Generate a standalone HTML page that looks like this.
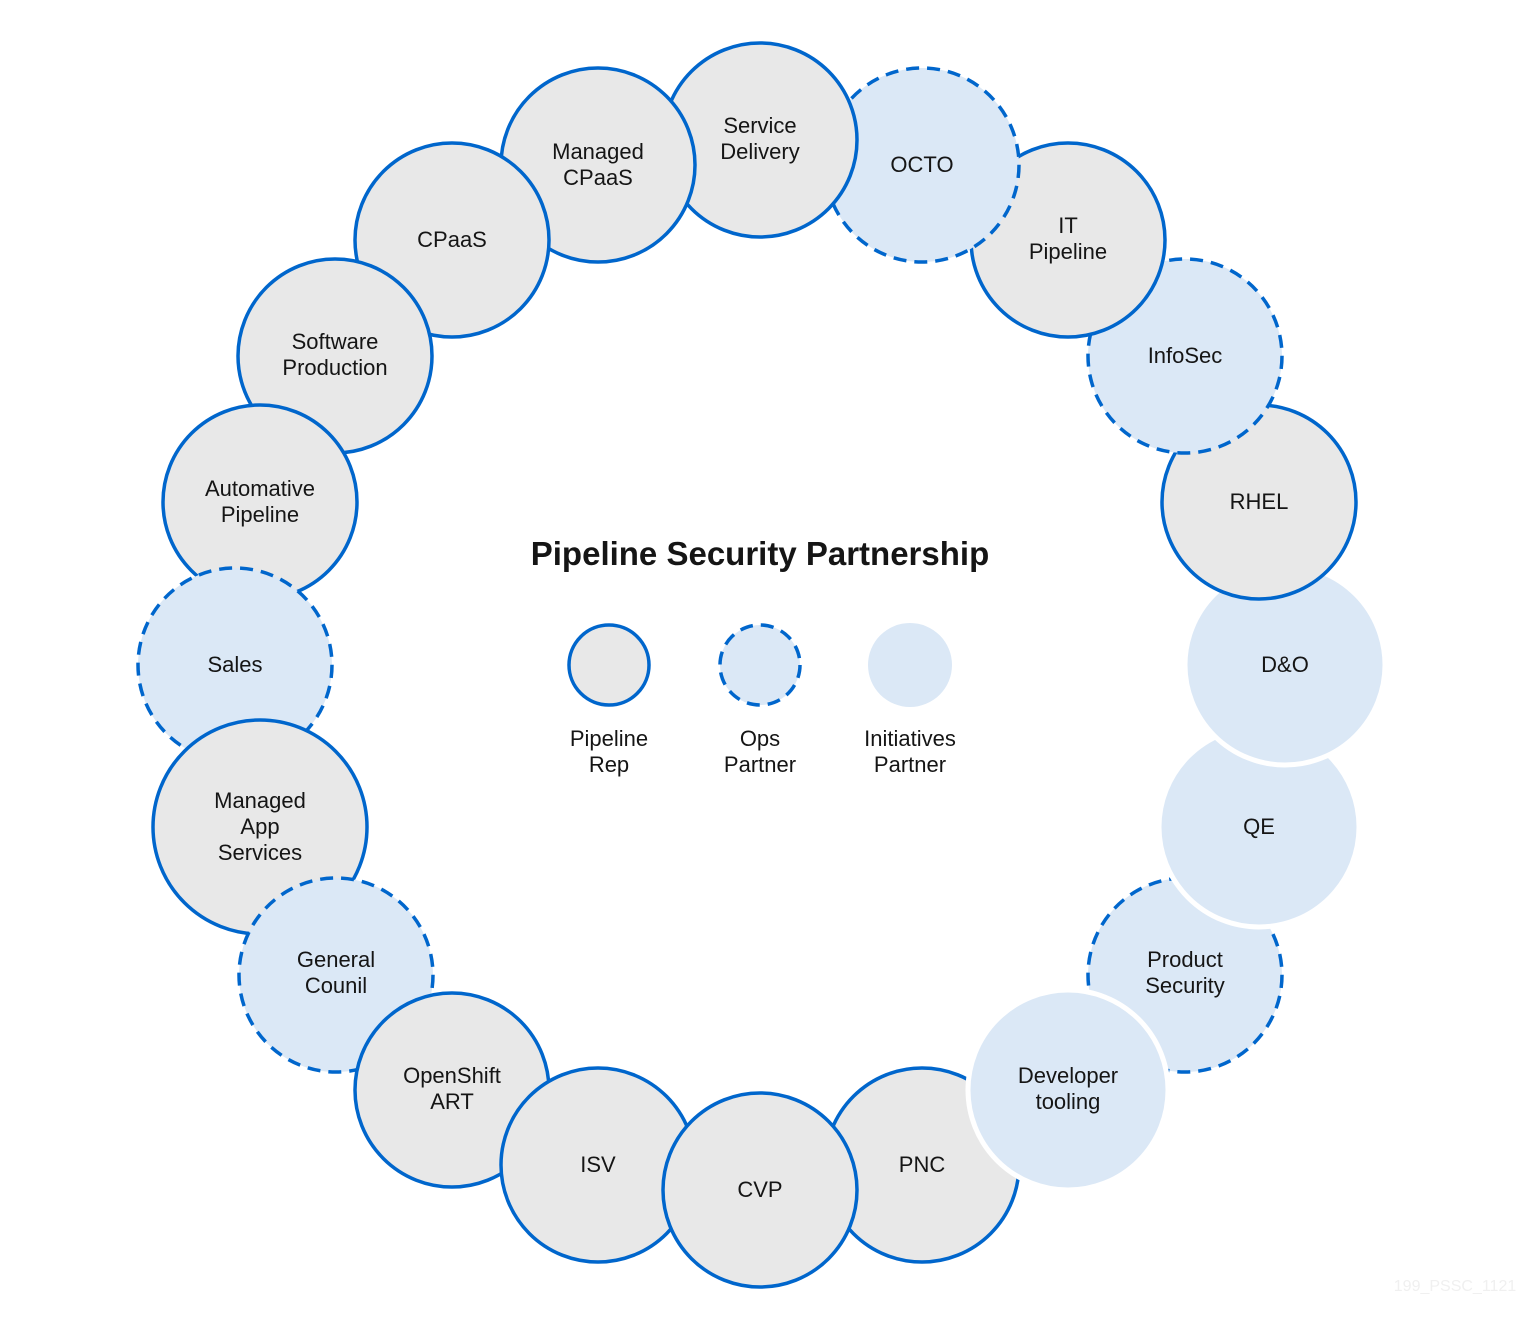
<!DOCTYPE html>
<html><head><meta charset="utf-8"><style>
html,body{margin:0;padding:0;background:#fff;}
svg{display:block;}
text{font-family:"Liberation Sans",sans-serif;font-size:22px;fill:#151515;text-anchor:middle;}
</style></head><body>
<svg width="1520" height="1325" viewBox="0 0 1520 1325">
<defs>
<style>
.s{fill:#e8e8e8;stroke:#0066cc;stroke-width:3.5;}
.d{fill:#dbe8f6;stroke:#0066cc;stroke-width:3.5;stroke-dasharray:13 8;}
.i{fill:#dbe8f6;stroke:#fff;stroke-width:5;}
</style>
</defs>
<circle class="d" cx="1185" cy="975" r="97"/>
<circle class="i" cx="1259" cy="827" r="100"/>
<circle class="i" cx="1285" cy="665" r="100"/>
<circle class="s" cx="1259" cy="502" r="97"/>
<circle class="d" cx="1185" cy="356" r="97"/>
<circle class="s" cx="1068" cy="240" r="97"/>
<circle class="d" cx="922" cy="165" r="97"/>
<circle class="s" cx="760" cy="140" r="97"/>
<circle class="s" cx="598" cy="165" r="97"/>
<circle class="s" cx="452" cy="240" r="97"/>
<circle class="s" cx="335" cy="356" r="97"/>
<circle class="s" cx="260" cy="502" r="97"/>
<circle class="d" cx="235" cy="665" r="97"/>
<circle class="s" cx="260" cy="827" r="107"/>
<circle class="d" cx="336" cy="975" r="97"/>
<circle class="s" cx="452" cy="1090" r="97"/>
<circle class="s" cx="598" cy="1165" r="97"/>
<circle class="s" cx="922" cy="1165" r="97"/>
<circle class="s" cx="760" cy="1190" r="97"/>
<circle class="i" cx="1068" cy="1090" r="100"/>

<text x="760" y="133">Service</text><text x="760" y="159">Delivery</text>
<text x="922" y="172">OCTO</text>
<text x="1068" y="233">IT</text><text x="1068" y="259">Pipeline</text>
<text x="1185" y="363">InfoSec</text>
<text x="1259" y="509">RHEL</text>
<text x="1285" y="672">D&amp;O</text>
<text x="1259" y="834">QE</text>
<text x="1185" y="967">Product</text><text x="1185" y="993">Security</text>
<text x="1068" y="1083">Developer</text><text x="1068" y="1109">tooling</text>
<text x="922" y="1172">PNC</text>
<text x="760" y="1197">CVP</text>
<text x="598" y="1172">ISV</text>
<text x="452" y="1083">OpenShift</text><text x="452" y="1109">ART</text>
<text x="336" y="967">General</text><text x="336" y="993">Counil</text>
<text x="260" y="808">Managed</text><text x="260" y="834">App</text><text x="260" y="860">Services</text>
<text x="235" y="672">Sales</text>
<text x="260" y="496">Automative</text><text x="260" y="522">Pipeline</text>
<text x="335" y="349">Software</text><text x="335" y="375">Production</text>
<text x="452" y="247">CPaaS</text>
<text x="598" y="159">Managed</text><text x="598" y="185">CPaaS</text>

<text x="760" y="565" style="font-size:33px;font-weight:bold">Pipeline Security Partnership</text>
<circle class="s" cx="609" cy="665" r="40"/>
<circle class="d" cx="760" cy="665" r="40"/>
<circle cx="910" cy="665" r="42" fill="#dbe8f6"/>
<text x="609" y="746">Pipeline</text><text x="609" y="772">Rep</text>
<text x="760" y="746">Ops</text><text x="760" y="772">Partner</text>
<text x="910" y="746">Initiatives</text><text x="910" y="772">Partner</text>
<text x="1455" y="1291" style="font-size:16px;fill:#f0f0f0">199_PSSC_1121</text>
</svg>
</body></html>
